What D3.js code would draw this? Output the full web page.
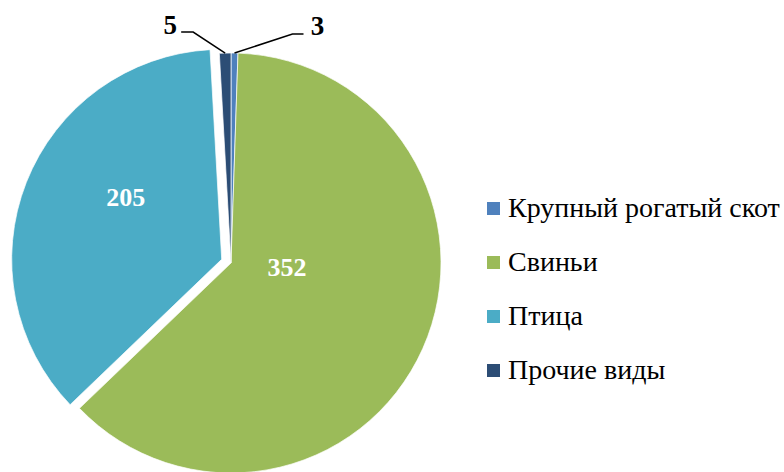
<!DOCTYPE html>
<html><head><meta charset="utf-8">
<script src="https://cdn.jsdelivr.net/npm/d3@7/dist/d3.min.js"></script>
<style>html,body{margin:0;padding:0;background:#fff;}svg{display:block;}</style>
</head><body>
<svg id="c" width="784" height="472"></svg>
<script>
const categories = ["Крупный рогатый скот", "Свиньи", "Птица", "Прочие виды"];
const values = [3, 352, 205, 5];
const colors = ["#4F81BD", "#9BBB59", "#4BACC6", "#2C4D75"];
const exploded = [0, 0, 10, 0];

const svg = d3.select("#c");
const cx = 231, cy = 263, R = 210;
const font = "'Liberation Serif','Times New Roman',Times,serif";

const pie = d3.pie().sort(null).value(d => d)(values);
const arc = d3.arc().innerRadius(0).outerRadius(R);
const g = svg.append("g").attr("transform", `translate(${cx},${cy})`);

function off(d, i) {
  const a = (d.startAngle + d.endAngle) / 2;
  return [Math.sin(a) * exploded[i], -Math.cos(a) * exploded[i]];
}

g.selectAll("path").data(pie).enter().append("path")
  .attr("d", arc)
  .attr("fill", (d, i) => colors[i])
  .attr("stroke", "#fff").attr("stroke-width", 0.7)
  .attr("transform", (d, i) => { const o = off(d, i); return `translate(${o[0]},${o[1]})`; });

// inside labels for large slices
const insidePos = { 1: [56, 13], 2: [-96, -53] };
pie.forEach((d, i) => {
  if (values[i] < 50) return;
  const o = off(d, i);
  const p = insidePos[i];
  g.append("text").attr("x", p[0] + o[0]).attr("y", p[1] + o[1])
    .attr("text-anchor", "middle")
    .style("font-family", font).attr("font-weight", "bold").attr("font-size", 26)
    .attr("fill", "#fff").text(values[i]);
});

// outside labels for small slices with leader lines
const outside = {
  3: { elbow: [-32, -21], end: [-44, -21], text: [-55, -19], anchor: "middle" },
  0: { elbow: [58, -19], end: [69, -19], text: [83, -18], anchor: "middle" }
};
pie.forEach((d, i) => {
  if (values[i] >= 50) return;
  const a = (d.startAngle + d.endAngle) / 2;
  const p0 = [Math.sin(a) * R, -Math.cos(a) * R];
  const s = outside[i];
  const p1 = [p0[0] + s.elbow[0], p0[1] + s.elbow[1]];
  const p2 = [p0[0] + s.end[0], p0[1] + s.end[1]];
  g.append("path").attr("d", d3.line()([p0, p1, p2]))
    .attr("fill", "none").attr("stroke", "#000").attr("stroke-width", 1.5);
  g.append("text").attr("x", p0[0] + s.text[0]).attr("y", p0[1] + s.text[1])
    .attr("text-anchor", s.anchor)
    .style("font-family", font).attr("font-weight", "bold").attr("font-size", 27)
    .attr("fill", "#000").text(values[i]);
});

// legend
const lg = svg.append("g").attr("transform", "translate(487,217)");
categories.forEach((c, i) => {
  const row = lg.append("g").attr("transform", `translate(0,${i * 54})`);
  row.append("rect").attr("x", 0).attr("y", -15).attr("width", 13).attr("height", 13).attr("fill", colors[i]);
  row.append("text").attr("x", 21).attr("y", 0)
    .style("font-family", font).attr("font-size", 28).attr("fill", "#000").text(c);
});
</script>
</body></html>
